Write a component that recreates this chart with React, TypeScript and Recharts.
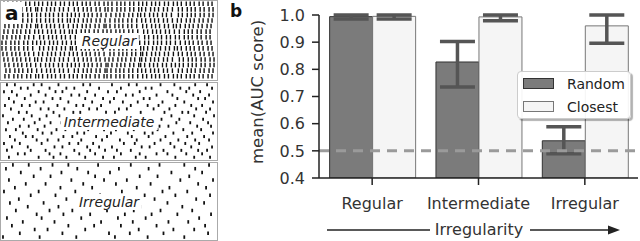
import React from "react";
import { Bar, BarChart, ErrorBar, Legend, ReferenceLine, Scatter, ScatterChart, XAxis, YAxis } from "recharts";

// panel b values
const categories = ["Regular", "Intermediate", "Irregular"];
const randomMean = [0.994, 0.827, 0.537];
const randomLow = [0.985, 0.735, 0.489];
const randomHigh = [1.0, 0.902, 0.589];
const closestMean = [0.995, 0.993, 0.96];
const closestLow = [0.985, 0.979, 0.896];
const closestHigh = [1.0, 1.0, 1.0];
const yTicks = [0.4, 0.5, 0.6, 0.7, 0.8, 0.9, 1.0];
const chanceLevel = 0.5;
const seriesOrder = ["Random", "Closest"];

// panel a spike times (pixel columns 0-217), one list per trial row
const regularRows = [
  [3, 7, 12, 16, 20, 25, 29, 34, 38, 42, 47, 51, 55, 60, 64, 69, 73, 77, 82, 86, 90, 95, 99, 104, 108, 112, 117, 121, 125, 130, 134, 139, 143, 147, 152, 156, 160, 165, 169, 174, 178, 182, 187, 191, 195, 200, 204, 209, 213],
  [4, 8, 13, 17, 21, 26, 30, 35, 37, 41, 46, 50, 54, 59, 63, 68, 74, 78, 83, 87, 91, 96, 100, 105, 108, 112, 117, 121, 125, 130, 134, 139, 142, 146, 151, 155, 159, 164, 168, 173, 179, 183, 188, 192, 196, 201, 205, 210, 214],
  [5, 9, 14, 18, 22, 27, 31, 36, 40, 45, 49, 53, 58, 62, 67, 71, 75, 79, 84, 88, 92, 97, 101, 106, 111, 116, 120, 124, 129, 133, 138, 141, 145, 150, 154, 158, 163, 167, 172, 179, 183, 188, 192, 196, 201, 205, 210, 214],
  [5, 9, 14, 18, 22, 27, 31, 36, 40, 45, 49, 53, 58, 62, 67, 70, 74, 78, 83, 87, 91, 96, 100, 105, 110, 115, 119, 123, 128, 132, 137, 142, 146, 151, 155, 159, 164, 168, 173, 178, 182, 187, 191, 195, 200, 204, 209, 213],
  [4, 8, 13, 17, 21, 26, 30, 35, 37, 41, 46, 50, 54, 59, 63, 68, 73, 77, 82, 86, 90, 95, 99, 104, 106, 110, 115, 119, 123, 128, 132, 137, 143, 147, 152, 156, 160, 165, 169, 174, 177, 181, 186, 190, 194, 199, 203, 208, 212],
  [3, 7, 12, 16, 20, 25, 29, 34, 38, 42, 47, 51, 55, 60, 64, 69, 72, 76, 81, 85, 89, 94, 98, 103, 107, 111, 116, 120, 124, 129, 133, 138, 144, 148, 153, 157, 161, 166, 170, 175, 180, 185, 189, 193, 198, 202, 207, 211],
  [2, 6, 11, 15, 19, 24, 28, 33, 39, 43, 48, 52, 56, 61, 65, 70, 75, 80, 84, 88, 93, 97, 102, 108, 112, 117, 121, 125, 130, 134, 139, 145, 149, 154, 158, 162, 167, 171, 176, 180, 185, 189, 193, 198, 202, 207, 211],
  [1, 5, 10, 14, 18, 23, 27, 32, 36, 40, 44, 49, 53, 57, 62, 66, 71, 75, 80, 84, 88, 93, 97, 102, 109, 113, 118, 122, 126, 131, 135, 140, 145, 149, 154, 158, 162, 167, 171, 176, 181, 186, 190, 194, 199, 203, 208, 212],
  [1, 5, 10, 14, 18, 23, 27, 32, 39, 43, 48, 52, 56, 61, 65, 70, 72, 76, 81, 85, 89, 94, 98, 103, 110, 114, 119, 123, 127, 132, 136, 141, 144, 148, 153, 157, 161, 166, 170, 175, 178, 182, 187, 191, 195, 200, 204, 209, 213],
  [2, 6, 11, 15, 19, 24, 28, 33, 38, 42, 47, 51, 55, 60, 64, 69, 73, 77, 82, 86, 90, 95, 99, 104, 110, 114, 119, 123, 127, 132, 136, 141, 143, 147, 152, 156, 160, 165, 169, 174, 179, 183, 188, 192, 196, 201, 205, 210, 214],
  [3, 7, 12, 16, 20, 25, 29, 34, 37, 41, 46, 50, 54, 59, 63, 68, 74, 78, 83, 87, 91, 96, 100, 105, 109, 113, 118, 122, 126, 131, 135, 140, 142, 146, 151, 155, 159, 164, 168, 173, 180, 184, 189, 193, 197, 202, 206, 211, 215],
  [4, 8, 13, 17, 21, 26, 30, 35, 40, 45, 49, 53, 58, 62, 67, 71, 75, 79, 84, 88, 92, 97, 101, 106, 108, 112, 117, 121, 125, 130, 134, 139, 141, 145, 150, 154, 158, 163, 167, 172, 176, 180, 184, 189, 193, 197, 202, 206, 211, 215],
  [5, 9, 14, 18, 22, 27, 31, 36, 41, 46, 50, 54, 59, 63, 68, 74, 78, 83, 87, 91, 96, 100, 105, 107, 111, 116, 120, 124, 129, 133, 138, 142, 146, 151, 155, 159, 164, 168, 173, 179, 183, 188, 192, 196, 201, 205, 210, 214],
  [4, 8, 13, 17, 21, 26, 30, 35, 38, 42, 47, 51, 55, 60, 64, 69, 73, 77, 82, 86, 90, 95, 99, 104, 107, 111, 116, 120, 124, 129, 133, 138, 143, 147, 152, 156, 160, 165, 169, 174, 178, 182, 187, 191, 195, 200, 204, 209, 213],
];

const intermediateRows = [
  [6, 14, 33, 41, 58, 83, 90, 112, 129, 137, 161, 175, 196, 208],
  [20, 27, 49, 66, 74, 99, 121, 146, 152, 181, 190, 213],
  [3, 11, 38, 55, 62, 87, 108, 117, 140, 168, 187, 201],
  [16, 30, 45, 71, 79, 95, 126, 133, 157, 173, 194, 210],
  [8, 24, 52, 60, 85, 103, 114, 144, 150, 178, 199, 206],
  [13, 35, 43, 68, 92, 110, 123, 138, 163, 185, 214],
  [4, 21, 29, 57, 76, 83, 101, 131, 148, 159, 176, 192, 203],
  [10, 40, 48, 64, 89, 97, 119, 127, 154, 170, 197, 211],
  [18, 26, 53, 73, 80, 106, 115, 141, 165, 183, 189, 207],
  [2, 31, 46, 59, 86, 94, 122, 136, 147, 172, 195, 215],
  [12, 23, 39, 67, 75, 100, 113, 130, 156, 162, 180, 204],
  [7, 34, 50, 61, 82, 109, 118, 143, 151, 177, 191, 209],
  [19, 28, 44, 70, 91, 98, 125, 139, 160, 169, 198, 212],
  [5, 15, 37, 56, 65, 88, 104, 116, 134, 158, 184, 202],
  [22, 42, 51, 77, 84, 111, 128, 145, 153, 174, 193, 214],
  [9, 25, 32, 63, 72, 96, 107, 132, 149, 166, 188, 205],
  [14, 36, 47, 58, 81, 102, 120, 137, 161, 179, 196, 210],
  [3, 19, 41, 69, 78, 93, 124, 135, 155, 171, 186, 200],
  [11, 27, 54, 62, 87, 99, 112, 142, 150, 175, 192, 213],
  [6, 30, 45, 74, 90, 105, 117, 131, 164, 182, 199, 208],
  [17, 24, 49, 60, 79, 95, 121, 140, 157, 168, 187, 203],
  [8, 38, 53, 66, 85, 103, 114, 136, 146, 176, 195, 211],
];

const irregularRows = [
  [12, 28, 52, 68, 98, 131, 160, 185, 210],
  [5, 40, 77, 119, 149, 196],
  [20, 61, 88, 110, 172, 203],
  [33, 50, 95, 140, 158, 190],
  [8, 71, 104, 127, 181, 214],
  [25, 45, 83, 116, 151, 199],
  [14, 60, 92, 137, 170, 207],
  [3, 38, 75, 122, 163, 188],
  [30, 55, 100, 145, 176, 211],
  [18, 66, 86, 129, 155, 197],
  [9, 43, 79, 113, 168, 205],
  [27, 58, 96, 141, 183],
  [15, 49, 72, 107, 134, 161, 193],
  [36, 63, 90, 125, 152, 178, 212],
  [6, 41, 81, 118, 146, 200],
  [22, 54, 101, 133, 169, 189],
  [11, 68, 94, 121, 157, 206],
  [34, 47, 85, 139, 174, 195],
  [19, 62, 109, 130, 164, 209],
  [2, 39, 76, 115, 148, 185],
];

const font = "'DejaVu Sans', sans-serif";

function Raster({ rows, top, height, label, tickLen, tickWidth }: { rows: number[][]; top: number; height: number; label: string; tickLen: number; tickWidth: number }) {
  const pts = rows.flatMap((r, i) => r.map((x) => ({ x, y: i + 0.5 })));
  const w = 218;
  return (
    <div style={{ position: "absolute", left: 0, top, width: w, height, border: "1.5px solid #aaa", boxSizing: "border-box", overflow: "hidden" }}>
      <ScatterChart width={w - 3} height={height - 3} margin={{ top: 0, right: 0, bottom: 0, left: 0 }}>
        <XAxis type="number" dataKey="x" domain={[0, 217]} hide />
        <YAxis type="number" dataKey="y" domain={[0, rows.length]} hide reversed />
        <Scatter
          data={pts}
          isAnimationActive={false}
          shape={(p: any) => <line x1={p.cx} x2={p.cx} y1={p.cy - tickLen / 2} y2={p.cy + tickLen / 2} stroke="#111" strokeWidth={tickWidth} />}
        />
      </ScatterChart>
      <span
        style={{
          position: "absolute", left: "50%", top: "50%", transform: "translate(-50%, -50%)",
          background: "#fff", padding: "0 3px", fontFamily: font, fontStyle: "italic", fontSize: 14, color: "#222", lineHeight: "16px",
        }}
      >
        {label}
      </span>
    </div>
  );
}

const barData = categories.map((cat, i) => ({
  cat,
  random: randomMean[i],
  randomErr: [randomMean[i] - randomLow[i], randomHigh[i] - randomMean[i]],
  closest: closestMean[i],
  closestErr: [closestMean[i] - closestLow[i], closestHigh[i] - closestMean[i]],
}));

const swatchStroke: Record<string, string> = { Random: "#333", Closest: "#777" };

function renderLegend(props: any) {
  const items = [...(props.payload || [])].sort((a: any, b: any) => seriesOrder.indexOf(a.value) - seriesOrder.indexOf(b.value));
  return (
    <div style={{ width: 114, height: 48, boxSizing: "border-box", background: "rgba(255,255,255,0.92)", border: "1px solid #ccc", borderRadius: 4, boxShadow: "2px 2px 1px rgba(0,0,0,0.3)" }}>
      {items.map((e: any) => (
        <div key={e.value} style={{ display: "flex", alignItems: "center", height: 23 }}>
          <div style={{ width: 31, height: 11, marginLeft: 5, boxSizing: "border-box", background: e.color, border: `1px solid ${swatchStroke[e.value]}` }} />
          <span style={{ marginLeft: 13, fontFamily: font, fontSize: 14, color: "#222" }}>{e.value}</span>
        </div>
      ))}
    </div>
  );
}

export default function App() {
  return (
    <div style={{ position: "absolute", left: 0, top: 0, width: 640, height: 241, background: "#fff", overflow: "hidden" }}>
      <Raster rows={regularRows} top={0} height={81} label="Regular" tickLen={4.6} tickWidth={1.4} />
      <Raster rows={intermediateRows} top={82} height={79} label="Intermediate" tickLen={3} tickWidth={1.8} />
      <Raster rows={irregularRows} top={162} height={79} label="Irregular" tickLen={3.5} tickWidth={1.8} />
      <div style={{ position: "absolute", left: 2, top: 2, background: "#fff", padding: "0 3px", fontFamily: font, fontWeight: "bold", fontSize: 20, lineHeight: "22px", color: "#111" }}>a</div>

      <div style={{ position: "absolute", left: 220, top: 0 }}>
        <BarChart width={420} height={241} data={barData} margin={{ top: 15, right: 2, bottom: 0, left: 0 }} barCategoryGap="10%" barGap={0}>
          <XAxis
            dataKey="cat"
            height={63}
            interval={0}
            tickSize={7}
            tickMargin={13}
            axisLine={{ stroke: "#222", strokeWidth: 1.5 }}
            tickLine={{ stroke: "#222", strokeWidth: 1.5 }}
            tick={{ fontSize: 16, fill: "#333", fontFamily: font }}
          />
          <YAxis
            width={99}
            domain={[0.4, 1.0]}
            ticks={yTicks}
            allowDataOverflow
            tickFormatter={(v: number) => v.toFixed(1)}
            tickSize={7}
            tickMargin={7}
            axisLine={{ stroke: "#222", strokeWidth: 1.5 }}
            tickLine={{ stroke: "#222", strokeWidth: 1.5 }}
            tick={{ fontSize: 16, fill: "#333", fontFamily: font }}
            label={{
              content: () => (
                <text x={37} y={92} transform="rotate(-90 37 92)" textAnchor="middle" dominantBaseline="central" fontSize={16.5} fill="#333" fontFamily={font}>
                  mean(AUC score)
                </text>
              ),
            }}
          />
          <Bar dataKey="random" name="Random" fill="#7b7b7b" stroke="#333" strokeWidth={1} isAnimationActive={false}>
            <ErrorBar dataKey="randomErr" width={17.5} strokeWidth={3.5} stroke="#555" />
          </Bar>
          <Bar dataKey="closest" name="Closest" fill="#f5f5f5" stroke="#777" strokeWidth={1} isAnimationActive={false}>
            <ErrorBar dataKey="closestErr" width={17.5} strokeWidth={3.5} stroke="#555" />
          </Bar>
          <ReferenceLine y={chanceLevel} stroke="#9a9a9a" strokeWidth={3} strokeDasharray="10 7" />
          <Legend
            layout="vertical"
            align="center"
            verticalAlign="middle"
            content={renderLegend}
            wrapperStyle={{ position: "absolute", left: 297, top: 71, width: 114, height: 48 }}
          />
        </BarChart>
      </div>

      <svg width={640} height={241} style={{ position: "absolute", left: 0, top: 0, pointerEvents: "none" }}>
        <text x={230} y={17} fontFamily={font} fontWeight="bold" fontSize={17} fill="#111">b</text>
        <line x1={327} x2={430} y1={230} y2={230} stroke="#222" strokeWidth={1.5} />
        <text x={479} y={235} textAnchor="middle" fontFamily={font} fontSize={16} fill="#333">Irregularity</text>
        <line x1={530} x2={610} y1={230} y2={230} stroke="#222" strokeWidth={1.5} />
        <polygon points="608,225.5 620,230 608,234.5" fill="#222" />
      </svg>
    </div>
  );
}
